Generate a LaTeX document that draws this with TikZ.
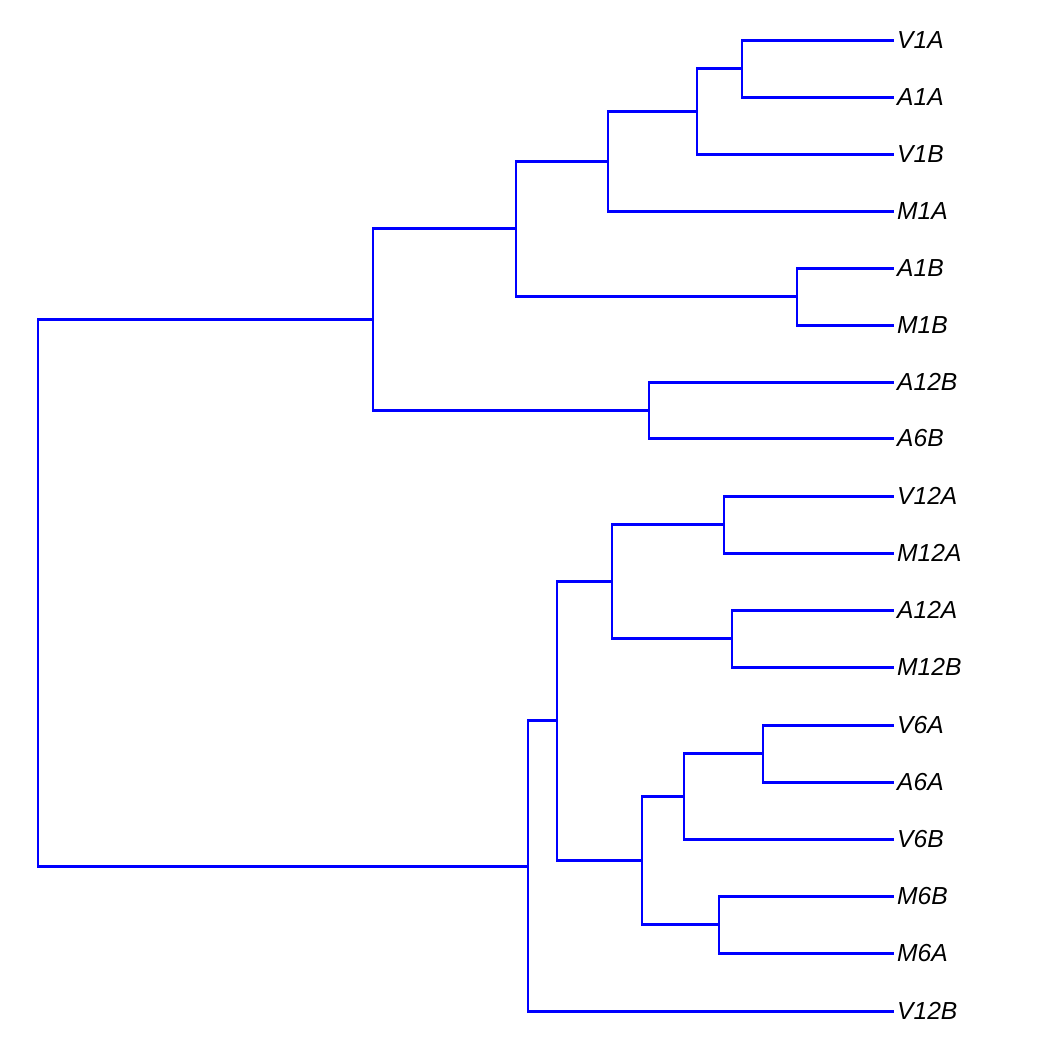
\documentclass[tikz,border=0pt]{standalone}
\usepackage{fontspec}
\setmainfont{Liberation Sans}
\usetikzlibrary{positioning}
\tikzset{
  leaf/.style={anchor=west, inner sep=0pt, outer xsep=0.9pt, font=\fontsize{7}{8}\selectfont\itshape},
  branch/.style={draw=blue, line width=0.85pt}
}
\begin{document}
\begin{tikzpicture}[x=0.01cm, y=-0.01cm]
        \useasboundingbox (0,0) rectangle (1050,1050);
        % leaves
        \node[leaf] (V1A) at (894,40) {V1A};
        \node[leaf] (A1A) at (894,97) {A1A};
        \node[leaf] (V1B) at (894,154) {V1B};
        \node[leaf] (M1A) at (894,211) {M1A};
        \node[leaf] (A1B) at (894,268) {A1B};
        \node[leaf] (M1B) at (894,325) {M1B};
        \node[leaf] (A12B) at (894,382) {A12B};
        \node[leaf] (A6B) at (894,438) {A6B};
        \node[leaf] (V12A) at (894,496) {V12A};
        \node[leaf] (M12A) at (894,553) {M12A};
        \node[leaf] (A12A) at (894,610) {A12A};
        \node[leaf] (M12B) at (894,667) {M12B};
        \node[leaf] (V6A) at (894,725) {V6A};
        \node[leaf] (A6A) at (894,782) {A6A};
        \node[leaf] (V6B) at (894,839) {V6B};
        \node[leaf] (M6B) at (894,896) {M6B};
        \node[leaf] (M6A) at (894,953) {M6A};
        \node[leaf] (V12B) at (894,1011) {V12B};

        % merge points
        \coordinate (a1) at (742,68);
        \coordinate (a2) at (697,111);
        \coordinate (a3) at (608,161);
        \coordinate (a4) at (797,296);
        \coordinate (a5) at (516,228);
        \coordinate (a6) at (649,410);
        \coordinate (a7) at (373,319);
        \coordinate (b1) at (724,524);
        \coordinate (b2) at (732,638);
        \coordinate (b3) at (612,581);
        \coordinate (b4) at (763,753);
        \coordinate (b5) at (684,796);
        \coordinate (b6) at (719,924);
        \coordinate (b7) at (642,860);
        \coordinate (b8) at (557,720);
        \coordinate (b9) at (528,866);
        \coordinate (root) at (38,592);

        \draw[branch] (a1) |- (V1A.west);
        \draw[branch] (a1) |- (A1A.west);
        \draw[branch] (a2) |- (a1);
        \draw[branch] (a2) |- (V1B.west);
        \draw[branch] (a3) |- (a2);
        \draw[branch] (a3) |- (M1A.west);
        \draw[branch] (a4) |- (A1B.west);
        \draw[branch] (a4) |- (M1B.west);
        \draw[branch] (a5) |- (a3);
        \draw[branch] (a5) |- (a4);
        \draw[branch] (a6) |- (A12B.west);
        \draw[branch] (a6) |- (A6B.west);
        \draw[branch] (a7) |- (a5);
        \draw[branch] (a7) |- (a6);
        \draw[branch] (b1) |- (V12A.west);
        \draw[branch] (b1) |- (M12A.west);
        \draw[branch] (b2) |- (A12A.west);
        \draw[branch] (b2) |- (M12B.west);
        \draw[branch] (b3) |- (b1);
        \draw[branch] (b3) |- (b2);
        \draw[branch] (b4) |- (V6A.west);
        \draw[branch] (b4) |- (A6A.west);
        \draw[branch] (b5) |- (b4);
        \draw[branch] (b5) |- (V6B.west);
        \draw[branch] (b6) |- (M6B.west);
        \draw[branch] (b6) |- (M6A.west);
        \draw[branch] (b7) |- (b5);
        \draw[branch] (b7) |- (b6);
        \draw[branch] (b8) |- (b3);
        \draw[branch] (b8) |- (b7);
        \draw[branch] (b9) |- (b8);
        \draw[branch] (b9) |- (V12B.west);
        \draw[branch] (root) |- (a7);
        \draw[branch] (root) |- (b9);
    \end{tikzpicture}
\end{document}
